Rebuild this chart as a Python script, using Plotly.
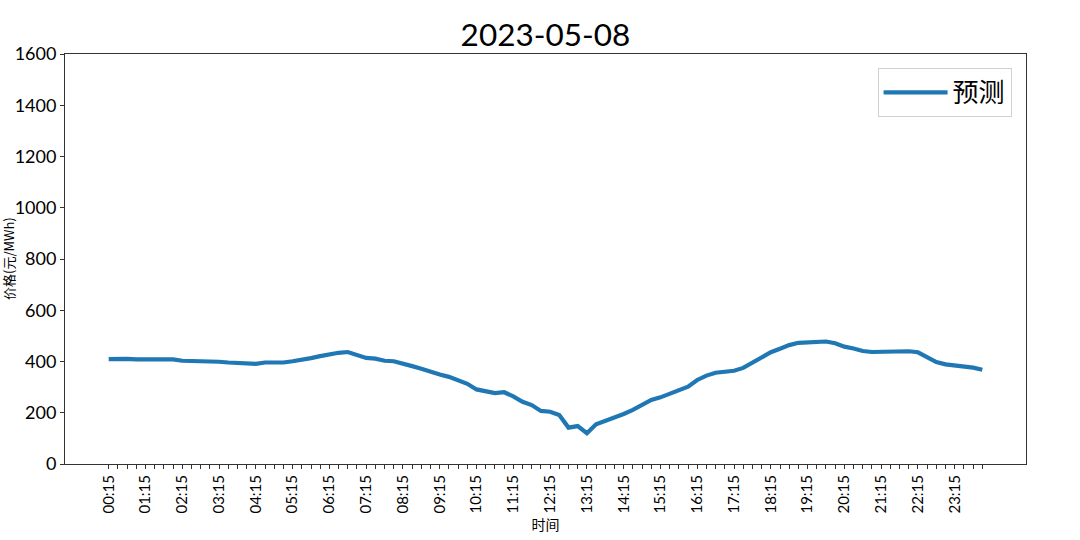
import plotly.graph_objects as go

title = "2023-05-08"
times = [f"{(15 * (k + 1)) // 60:02d}:{(15 * (k + 1)) % 60:02d}" for k in range(96)]
price = [409, 411, 410, 408, 408, 406, 406, 408, 403, 403,
         403, 401, 399, 396, 395, 396, 391, 396, 396, 396,
         401, 406, 413, 421, 428, 434, 437, 424, 414, 411,
         403, 401, 393, 382, 372, 359, 349, 340, 328, 313,
         291, 282, 277, 280, 264, 243, 230, 207, 204, 191,
         142, 148, 120, 155, 168, 178, 195, 211, 229, 250,
         260, 274, 286, 302, 328, 345, 356, 360, 364, 375,
         395, 416, 436, 450, 464, 473, 475, 480, 478, 471,
         458, 451, 441, 437, 437, 438, 441, 440, 436, 416,
         398, 389, 386, 382, 376, 368]
series_name = "预测"
y_title = "价格(元/MWh)"
x_title = "时间"

idx = list(range(len(times)))
n = len(times) - 1
x_range = [-0.05 * n, n + 0.05 * n]
label_idx = idx[::4]
label_txt = [times[i] for i in label_idx]

font_num = "Lato, 'Noto Sans CJK SC', sans-serif"
font_cjk = "'Noto Sans CJK SC', sans-serif"

fig = go.Figure()
fig.add_trace(go.Scatter(
    x=idx, y=price, mode="lines", name=series_name,
    customdata=times, hovertemplate="%{customdata}: %{y}<extra></extra>",
    line=dict(color="#1f77b4", width=4.2),
))

fig.update_layout(
    width=1080, height=540,
    margin=dict(l=65, r=54, t=54, b=76, autoexpand=False),
    paper_bgcolor="white", plot_bgcolor="white",
    title=dict(text=title, x=0.505, xanchor="center", yref="container", y=0.935, yanchor="middle",
               font=dict(family=font_num, size=31.5, color="black"), automargin=False),
    showlegend=True,
    legend=dict(x=0.985, xanchor="right", y=0.966, yanchor="top",
                bgcolor="white", bordercolor="#d0d0d0", borderwidth=1,
                font=dict(family=font_cjk, size=26, color="black"),
                itemwidth=64),
    annotations=[dict(text=y_title, xref="paper", yref="paper", x=-0.0593, y=0.5,
                      xanchor="center", yanchor="middle", textangle=-90, showarrow=False,
                      font=dict(family=font_cjk, size=13, color="black"))],
)

fig.update_xaxes(
    range=x_range, automargin=False,
    tickmode="array", tickvals=label_idx, ticktext=label_txt,
    tickangle=-90, ticks="outside", ticklen=4, tickwidth=1, tickcolor="#333",
    tickfont=dict(family=font_num, size=15, color="black"),
    minor=dict(tickmode="array", tickvals=idx, ticks="outside",
               ticklen=4, tickwidth=1, tickcolor="#333", showgrid=False),
    showgrid=False, zeroline=False,
    showline=True, linecolor="#333", linewidth=1, mirror=True,
    title=dict(text=x_title, standoff=0, font=dict(family=font_cjk, size=14, color="black")),
)

fig.update_yaxes(
    range=[0, 1600], tickmode="linear", tick0=0, dtick=200, automargin=False,
    ticks="outside", ticklen=4, tickwidth=1, tickcolor="#333",
    tickfont=dict(family=font_num, size=18, color="black"),
    showgrid=False, zeroline=False,
    showline=True, linecolor="#333", linewidth=1, mirror=True,
)

fig.write_html("out.html", config={"displayModeBar": False},
               post_script="document.body.style.margin='0';")
